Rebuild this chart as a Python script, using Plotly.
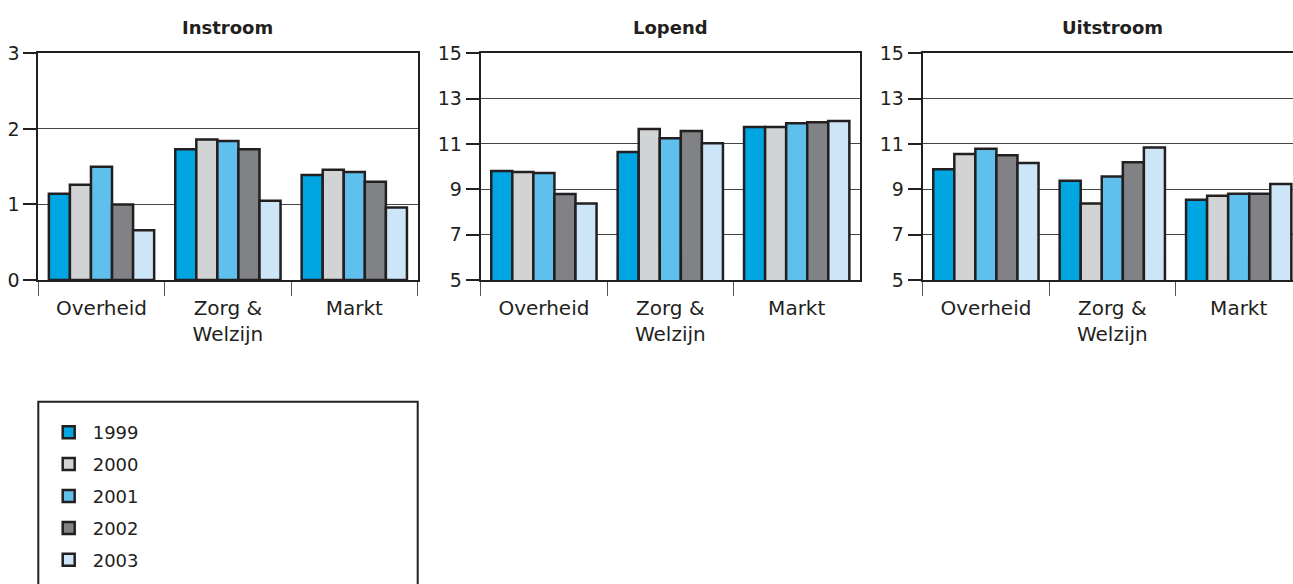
import plotly.graph_objects as go

W, H = 1293, 584

sectors = ["Overheid", "Zorg &<br>Welzijn", "Markt"]
years = ["1999", "2000", "2001", "2002", "2003"]
colors = ["#00a6e2", "#d1d3d5", "#5fc0ed", "#808285", "#cce6f8"]

# values per year: [Overheid, Zorg & Welzijn, Markt]
instroom = {
    "1999": [1.14, 1.73, 1.39],
    "2000": [1.26, 1.86, 1.46],
    "2001": [1.50, 1.84, 1.43],
    "2002": [1.00, 1.73, 1.30],
    "2003": [0.66, 1.05, 0.96],
}
lopend = {
    "1999": [9.81, 10.65, 11.75],
    "2000": [9.76, 11.66, 11.75],
    "2001": [9.72, 11.25, 11.91],
    "2002": [8.79, 11.57, 11.96],
    "2003": [8.38, 11.03, 12.01],
}
uitstroom = {
    "1999": [9.88, 9.38, 8.54],
    "2000": [10.56, 8.37, 8.72],
    "2001": [10.79, 9.57, 8.81],
    "2002": [10.50, 10.19, 8.81],
    "2003": [10.16, 10.85, 9.24],
}

panel_titles = ["Instroom", "Lopend", "Uitstroom"]
panel_data = [instroom, lopend, uitstroom]
y_ranges = [[0, 3], [5, 15], [5, 15]]
y_ticks = [[0, 1, 2, 3], [5, 7, 9, 11, 13, 15], [5, 7, 9, 11, 13, 15]]

INK = "#231f20"
FONT = "DejaVu Sans"


def px_x(p):
    return p / W


def px_y(p):
    return (H - p) / H


# panel pixel extents (left, right); the last one runs off the page edge
panels_px = [(38.3, 417.7), (480.7, 859.5), (922.7, W)]
cat_px = 126.4
top_px, bottom_px = 53.3, 280.0

fig = go.Figure()

for i, data in enumerate(panel_data):
    ax = "" if i == 0 else str(i + 1)
    for year, col in zip(years, colors):
        fig.add_trace(go.Bar(
            x=sectors, y=data[year], name=year,
            marker=dict(color=col, line=dict(color=INK, width=2.5)),
            xaxis="x" + ax, yaxis="y" + ax,
            legendgroup=year, showlegend=(i == 0),
            hoverinfo="skip",
        ))

    left, right = panels_px[i]
    x_end = -0.5 + (right - left) / cat_px
    last = i == 2
    fig.update_layout(**{
        "xaxis" + ax: dict(
            domain=[px_x(left), px_x(right)],
            anchor="y" + ax,
            type="category",
            range=[-0.5, x_end],
            showline=True, linecolor=INK, linewidth=2, mirror=True,
            ticks="outside", tickson="boundaries", ticklen=14,
            tickcolor="#555555", tickwidth=1,
            ticklabelstandoff=9,
            showgrid=False, zeroline=False,
            tickfont=dict(family=FONT, size=20, color=INK),
            fixedrange=True,
        ),
        "yaxis" + ax: dict(
            domain=[px_y(bottom_px), px_y(top_px)],
            anchor="x" + ax,
            range=y_ranges[i],
            tickvals=y_ticks[i],
            showline=True, linecolor=INK, linewidth=2,
            mirror=(not last),
            ticks="outside", ticklen=13, tickcolor=INK, tickwidth=1.5,
            showgrid=True, gridcolor="#444444", gridwidth=1,
            zeroline=False,
            tickfont=dict(family=FONT, size=19, color=INK),
            fixedrange=True,
        ),
    })
    centre = (left + (left + 3 * cat_px)) / 2
    fig.add_annotation(
        text="<b>%s</b>" % panel_titles[i],
        x=px_x(centre), y=px_y(27), xref="paper", yref="paper",
        xanchor="center", yanchor="middle", showarrow=False,
        font=dict(family=FONT, size=18, color=INK),
    )

# legend frame
fig.add_shape(
    type="rect", xref="paper", yref="paper",
    x0=px_x(38.3), x1=px_x(417.7), y0=px_y(401.7), y1=px_y(620),
    line=dict(color=INK, width=2), fillcolor="rgba(0,0,0,0)",
)

fig.update_layout(
    width=W, height=H,
    margin=dict(l=0, r=0, t=0, b=0),
    template="none",
    paper_bgcolor="white", plot_bgcolor="white",
    barmode="group", bargap=0.167, bargroupgap=0,
    showlegend=True,
    legend=dict(
        x=px_x(44.7), y=px_y(414), xanchor="left", yanchor="top",
        xref="paper", yref="paper",
        traceorder="grouped", tracegroupgap=5.5,
        itemwidth=38,
        bgcolor="rgba(0,0,0,0)", borderwidth=0,
        font=dict(family=FONT, size=18, color=INK),
    ),
    font=dict(family=FONT, color=INK),
)

fig.write_html("out.html")
